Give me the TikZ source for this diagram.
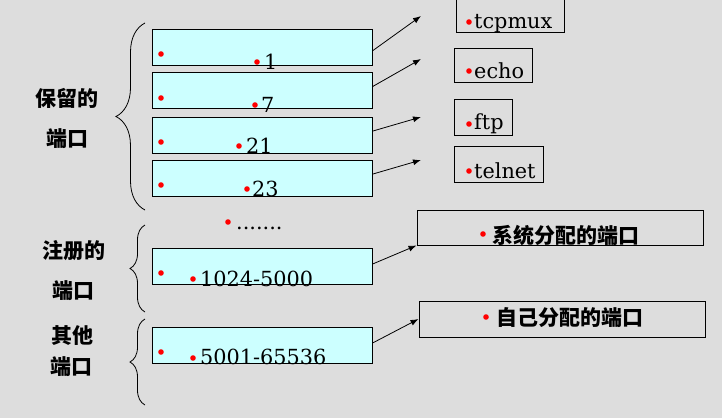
\documentclass[tikz,border=0pt]{standalone}
\usepackage{fontspec}
\setmainfont{DejaVu Serif}
\newfontfamily\cjk{Noto Sans CJK SC}
\usepackage{tikz}
\usetikzlibrary{arrows.meta,decorations.pathreplacing}

\definecolor{bggray}{RGB}{221,221,221}
\definecolor{boxcyan}{RGB}{204,255,255}

\tikzset{
  portbox/.style={draw, fill=boxcyan, line width=0.9pt, inner sep=0pt, minimum width=220pt, minimum height=36pt},
  svcbox/.style={draw, line width=0.9pt, inner sep=0pt},
  numtext/.style={anchor=base west, inner sep=0pt, font=\fontsize{20.8}{24}\selectfont},
  cntext/.style={inner sep=0pt, font=\cjk\bfseries\fontsize{21}{24}\selectfont},
  brace/.style={decorate, decoration={brace, amplitude=#1}, line width=0.8pt},
  link/.style={-{Latex[length=8pt,width=6pt]}, line width=0.8pt}
}

\begin{document}
\begin{tikzpicture}[x=1pt, y=-1pt]
\fill[bggray] (0,0) rectangle (722,418);
\useasboundingbox (0,0) rectangle (722,418);

% left labels and braces
\node[cntext] (res1) at (67,98) {保留的};
\node[cntext] (res2) at (67,139) {端口};
\node[cntext] (reg1) at (74,251) {注册的};
\node[cntext] (reg2) at (73,291) {端口};
\node[cntext] (oth1) at (72,336) {其他};
\node[cntext] (oth2) at (71,367) {端口};
\draw[brace=29pt] (145,210) -- (145,23);
\draw[brace=15pt] (145,312) -- (145,225);
\draw[brace=15pt] (145,405) -- (145,319);

% port boxes
\node[portbox] (p1) at (262,47) {};
\node[portbox] (p7) at (262,90.5) {};
\node[portbox] (p21) at (262,135) {};
\node[portbox] (p23) at (262,178) {};
\node[portbox] (preg) at (262,266) {};
\node[portbox] (poth) at (262,345) {};

\foreach \y in {54,98,142,185,273,352}
  \fill[red] (161,\y) circle (2.8pt);
\foreach \x/\y in {257/62,255/105,239/146,247/189,193/279,193/358,228/222}
  \fill[red] (\x,\y) circle (2.8pt);

\node[numtext] (n1) at (264,69) {1};
\node[numtext] (n7) at (261,112) {7};
\node[numtext] (n21) at (246,153) {21};
\node[numtext] (n23) at (252,196) {23};
\node[numtext] (nreg) at (200,286) {1024-5000};
\node[numtext] (noth) at (200,364) {5001-65536};
\node[numtext] (more) at (236,229) {.......};

% service boxes
\node[svcbox, minimum width=108pt, minimum height=35pt] (tcpmux) at (510,14.5) {};
\node[svcbox, minimum width=78pt, minimum height=34pt] (echo) at (493,65) {};
\node[svcbox, minimum width=58pt, minimum height=36pt] (ftp) at (483,117) {};
\node[svcbox, minimum width=89pt, minimum height=36pt] (telnet) at (498.5,164) {};
\node[svcbox, minimum width=286pt, minimum height=35pt] (sysbox) at (560,227.5) {};
\node[svcbox, minimum width=286pt, minimum height=36pt] (ownbox) at (562,319) {};

\foreach \y in {22,71,124,171}
  \fill[red] (469,\y) circle (2.8pt);
\fill[red] (483,234) circle (2.8pt);
\fill[red] (486,317) circle (2.8pt);

\node[numtext] (ttcpmux) at (474,28) {tcpmux};
\node[numtext] (techo) at (474,78) {echo};
\node[numtext] (tftp) at (474,129) {ftp};
\node[numtext] (ttelnet) at (474,178) {telnet};
\node[cntext, anchor=west] (tsys) at (492,235) {系统分配的端口};
\node[cntext, anchor=west] (town) at (496,318) {自己分配的端口};

% arrows
\coordinate (a1) at (421,16);
\coordinate (a2) at (421,59);
\coordinate (a3) at (421,117);
\coordinate (a4) at (421,160);
\draw[link] (p1.-2) -- (a1);
\draw[link] (p7.2) -- (a2);
\draw[link] (p21.2) -- (a3);
\draw[link] (p23.2) -- (a4);
\draw[link] (preg.1.5) -- (sysbox.south west);
\draw[link] (poth.1.5) -- (ownbox.west);
\end{tikzpicture}
\end{document}
